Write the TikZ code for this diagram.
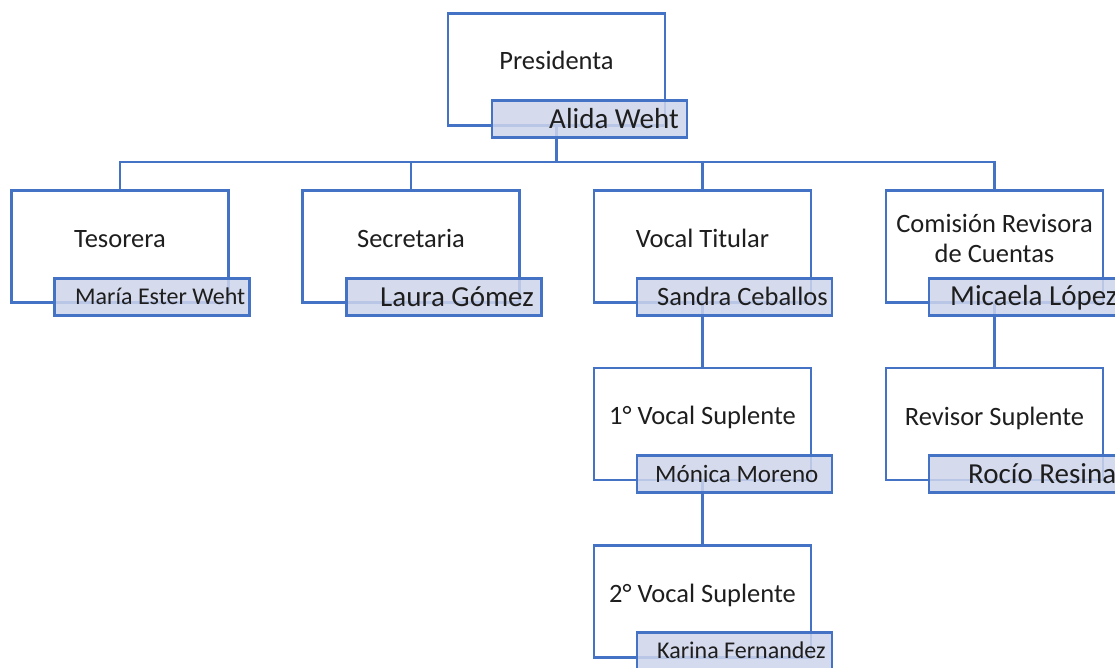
\documentclass[tikz,border=0pt]{standalone}
\usepackage{fontspec}
\setmainfont{Carlito}
\usepackage{tikz}
\usetikzlibrary{calc}
\usetikzlibrary{positioning}
\definecolor{orgblue}{RGB}{68, 114, 196}
\definecolor{namefill}{RGB}{206, 213, 235}
\definecolor{inktext}{RGB}{30, 30, 30}

\tikzset{
    rolebox/.style  = {draw=orgblue, line width=2.4pt, fill=white, minimum width=217pt, minimum height=112pt, inner sep=0pt},
    namebox/.style  = {draw=orgblue, line width=2.4pt, fill=namefill, fill opacity=0.85, minimum width=195pt, minimum height=37pt, inner sep=0pt},
    roletext/.style = {text=inktext, font=\fontsize{26.5}{30.5}\selectfont, anchor=base, inner sep=0pt, align=center},
    nametext/.style = {text=inktext, font=\fontsize{#1}{#1}\selectfont, anchor=base west, inner sep=0pt},
    link/.style     = {draw=orgblue, line width=2.4pt}
}

\begin{document}
\begin{tikzpicture}[x=1pt, y=-1pt]
            % Frame to fix the page size:
            \useasboundingbox                                   (0, 0) rectangle (1115, 667);
            \clip                                               (0, 0) rectangle (1115, 667);
            \coordinate (bus)                                   at (0, 162);

            % Role boxes:
            \node[rolebox] (bPres)  at (556.5,  69.5) {};
            \node[rolebox] (bTes)   at (120.0, 246.5) {};
            \node[rolebox] (bSec)   at (411.0, 246.5) {};
            \node[rolebox] (bVoc)   at (702.5, 246.5) {};
            \node[rolebox] (bCom)   at (994.5, 246.5) {};
            \node[rolebox] (bSup1)  at (702.5, 424.0) {};
            \node[rolebox] (bRev)   at (994.5, 424.0) {};
            \node[rolebox] (bSup2)  at (702.5, 601.5) {};

            % Connectors:
            \foreach \b in {bTes, bSec, bVoc, bCom}
                \draw[link] (bPres.south) |- (bus -| \b.north) -- (\b.north);
            \draw[link] (bVoc.south) -- (bSup1.north);
            \draw[link] (bSup1.south) -- (bSup2.north);
            \draw[link] (bCom.south) -- (bRev.north);

            % Name boxes:
            \node[namebox] (nPres)  at (589.5, 119.0) {};
            \node[namebox] (nTes)   at (152.0, 297.0) {};
            \node[namebox] (nSec)   at (444.0, 297.0) {};
            \node[namebox] (nVoc)   at (734.5, 297.0) {};
            \node[namebox] (nCom)   at (1026.5, 297.0) {};
            \node[namebox] (nSup1)  at (734.5, 474.0) {};
            \node[namebox] (nRev)   at (1026.5, 474.0) {};
            \node[namebox] (nSup2)  at (734.5, 651.0) {};

            % Role titles:
            \node[roletext] (tPres) at (556.5,  69.0) {Presidenta};
            \node[roletext] (tTes)  at (120.0, 247.0) {Tesorera};
            \node[roletext] (tSec)  at (411.0, 247.0) {Secretaria};
            \node[roletext] (tVoc)  at (702.5, 247.0) {Vocal Titular};
            \node[roletext, anchor=center] (tCom) at (994.5, 238.5) {Comisión Revisora\\de Cuentas};
            \node[roletext] (tSup1) at (702.5, 424.0) {1° Vocal Suplente};
            \node[roletext] (tRev)  at (994.5, 425.0) {Revisor Suplente};
            \node[roletext] (tSup2) at (702.5, 602.0) {2° Vocal Suplente};

            % Names:
            \node[nametext=29]   (pPres) at (549, 128.2) {Alida Weht};
            \node[nametext=24]   (pTes)  at ( 75, 304.6) {María Ester Weht};
            \node[nametext=29]   (pSec)  at (380, 306.0) {Laura Gómez};
            \node[nametext=26.5] (pVoc)  at (657, 305.4) {Sandra Ceballos};
            \node[nametext=29]   (pCom)  at (950, 305.0) {Micaela López};
            \node[nametext=25]   (pSup1) at (655, 482.0) {Mónica Moreno};
            \node[nametext=29]   (pRev)  at (968, 483.0) {Rocío Resina};
            \node[nametext=24]   (pSup2) at (657, 658.6) {Karina Fernandez};
        \end{tikzpicture}
\end{document}
